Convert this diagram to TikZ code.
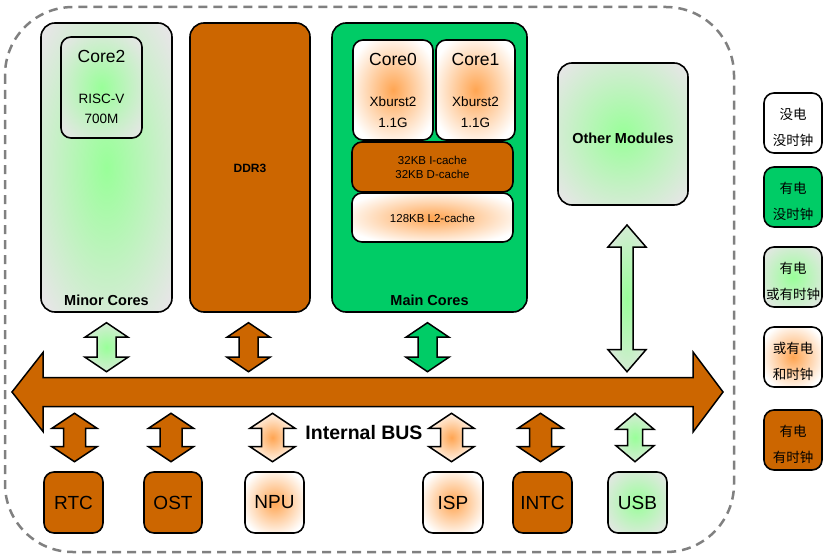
\documentclass[tikz,border=0pt]{standalone}
\usepackage{fontspec}
\setmainfont{Liberation Sans}
\newfontfamily\cjkfont{Noto Sans CJK SC}
\definecolor{borange}{HTML}{CC6600}
\definecolor{bgreen}{HTML}{00CC66}
\definecolor{lgray}{HTML}{E6E6E6}
\definecolor{gcen}{HTML}{99FF99}
\definecolor{ocen}{HTML}{FFA552}
\definecolor{dashgray}{HTML}{808080}
\pgfdeclareradialshading{glowG}{\pgfpoint{0bp}{0bp}}{color(0bp)=(gcen); color(33bp)=(lgray); color(50bp)=(lgray)}
\pgfdeclareradialshading{glowO}{\pgfpoint{0bp}{0bp}}{color(0bp)=(ocen); color(29bp)=(white); color(50bp)=(white)}
\newcommand\dblv[8]{%
  \path[#8] (#2-#6,#3+#7) -- (#2,#3) -- (#2+#6,#3+#7) -- (#2+#5,#3+#7) -- (#2+#5,#4-#7) -- (#2+#6,#4-#7) -- (#2,#4) -- (#2-#6,#4-#7) -- (#2-#5,#4-#7) -- (#2-#5,#3+#7) -- cycle;
  \coordinate (#1) at (#2,{(#3+#4)/2});}
\tikzset{
  blk/.style={draw=black, line width=1.6pt, rounded corners=14pt, inner sep=0pt},
  sub/.style={draw=black, line width=1.6pt, rounded corners=10pt, inner sep=0pt},
  fO/.style={fill=borange},
  fG/.style={fill=bgreen},
  fGray/.style={shading=glowG},
  fWO/.style={shading=glowO},
  fW/.style={fill=white},
  arr/.style={draw=black, line width=1.5pt, line join=miter},
  txt/.style={inner sep=0pt, text=black},
  bold/.style={txt, font=\bfseries\fontsize{14.5}{17}\selectfont},
  big/.style={txt, font=\fontsize{17.5}{20}\selectfont},
  mid/.style={txt, font=\fontsize{13.5}{16}\selectfont},
  small/.style={txt, font=\fontsize{11.5}{14}\selectfont},
  lab/.style={txt, font=\fontsize{19}{22}\selectfont},
  legbox/.style={sub, minimum width=58pt, minimum height=60pt},
  legtxt/.style={txt, align=center, font=\cjkfont\fontsize{13.5}{26}\selectfont},
}
\begin{document}
\begin{tikzpicture}[x=1pt, y=-1pt]
\useasboundingbox (0,0) rectangle (829,559);
% outer dashed frame
\draw[dashgray, line width=2.5pt, dash pattern=on 9pt off 6pt, rounded corners=68pt] (5,7) rectangle (734,552);

% Minor cores
\node[blk, fGray, minimum width=131pt, minimum height=289pt] (minor) at (106.5,167.5) {};
\node[sub, fGray, minimum width=81pt, minimum height=101pt] (core2) at (101.5,87.5) {};
\node[big] (core2t) at (101.5,56) {Core2};
\node[mid] (core2a) at (101.5,99) {RISC-V};
\node[mid] (core2b) at (101.5,119) {700M};
\node[bold] (minort) at (106.5,300) {Minor Cores};

% DDR3
\node[blk, fO, minimum width=120pt, minimum height=289pt] (ddr) at (250,167.5) {};
\node[txt, font=\bfseries\fontsize{12}{14}\selectfont] (ddrt) at (250,168) {DDR3};

% Main cores
\node[blk, fG, minimum width=195pt, minimum height=289pt] (main) at (429.5,167.5) {};
\node[sub, fWO, minimum width=80pt, minimum height=100pt] (core0) at (393,90) {};
\node[sub, fWO, minimum width=79pt, minimum height=100pt] (core1) at (475.5,90) {};
\node[big] (core0t) at (393,59) {Core0};
\node[mid] (core0a) at (393,102) {Xburst2};
\node[mid] (core0b) at (393,123) {1.1G};
\node[big] (core1t) at (475.5,59) {Core1};
\node[mid] (core1a) at (475.5,102) {Xburst2};
\node[mid] (core1b) at (475.5,123) {1.1G};
\node[sub, fO, minimum width=161pt, minimum height=50pt] (l1) at (432.5,167) {};
\node[small] (l1a) at (432.5,160) {32KB I-cache};
\node[small] (l1b) at (432.5,174.5) {32KB D-cache};
\node[sub, fWO, minimum width=161pt, minimum height=49pt] (l2) at (432.5,217.5) {};
\node[small] (l2t) at (432.5,218) {128KB L2-cache};
\node[bold] (maint) at (429.5,300) {Main Cores};

% Other modules
\node[blk, fGray, minimum width=130pt, minimum height=142pt] (other) at (623,134) {};
\node[bold] (othert) at (623,138) {Other Modules};

% Bus
\path[arr, fO] (12,392) -- (43,352.5) -- (43,377.5) -- (693,377.5) -- (693,352) -- (723,392) -- (693,432) -- (693,406.5) -- (43,406.5) -- (43,431.5) -- cycle;
\coordinate (bus) at (367,392);
\node[txt, font=\bfseries\fontsize{19.5}{22}\selectfont] (bust) at (364,433) {Internal BUS};

% arrows above bus
\dblv{aminor}{106.5}{322.7}{371.7}{9.5}{21.5}{14.5}{arr, fGray}
\dblv{addr}{248.5}{322.7}{371.7}{9.5}{21.5}{14.5}{arr, fO}
\dblv{amain}{427.5}{322.7}{371.7}{9.5}{21.5}{14.5}{arr, fG}
\dblv{aother}{627}{225}{371.7}{6}{19}{22}{arr, fGray}

% arrows below bus
\dblv{artc}{74.5}{413.3}{461.7}{11}{22.5}{15}{arr, fO}
\dblv{aost}{171}{413.3}{461.7}{11}{22.5}{15}{arr, fO}
\dblv{anpu}{272.5}{413.3}{461.7}{11}{22.5}{15}{arr, fWO}
\dblv{aisp}{451.5}{413.3}{461.7}{11}{22.5}{15}{arr, fWO}
\dblv{aintc}{540.5}{413.3}{461.7}{11}{22.5}{15}{arr, fO}
\dblv{ausb}{635}{413.3}{461.7}{7.5}{19}{16}{arr, fGray}

% bottom modules
\node[sub, fO, minimum width=59pt, minimum height=61pt, lab] (rtc) at (73.5,502.5) {RTC};
\node[sub, fO, minimum width=58pt, minimum height=61pt, lab] (ost) at (173,502.5) {OST};
\node[sub, fWO, minimum width=59pt, minimum height=61pt, lab] (npu) at (274.5,502.5) {NPU};
\node[sub, fWO, minimum width=60pt, minimum height=61pt, lab] (isp) at (453,502.5) {ISP};
\node[sub, fO, minimum width=59pt, minimum height=61pt, lab] (intc) at (542.5,502.5) {INTC};
\node[sub, fGray, minimum width=59pt, minimum height=61pt, lab] (usb) at (637.5,502.5) {USB};

% legend
\node[legbox, fW] (lg1) at (793,123) {};
\node[legbox, fG] (lg2) at (793,197) {};
\node[legbox, fGray] (lg3) at (793,277) {};
\node[legbox, fWO] (lg4) at (793,357) {};
\node[legbox, fO] (lg5) at (793,440) {};
\node[legtxt] (lg1t) at (793,127) {没电\\没时钟};
\node[legtxt] (lg2t) at (793,201) {有电\\没时钟};
\node[legtxt] (lg3t) at (793,281) {有电\\或有时钟};
\node[legtxt] (lg4t) at (793,361) {或有电\\和时钟};
\node[legtxt] (lg5t) at (793,444) {有电\\有时钟};
\end{tikzpicture}
\end{document}
